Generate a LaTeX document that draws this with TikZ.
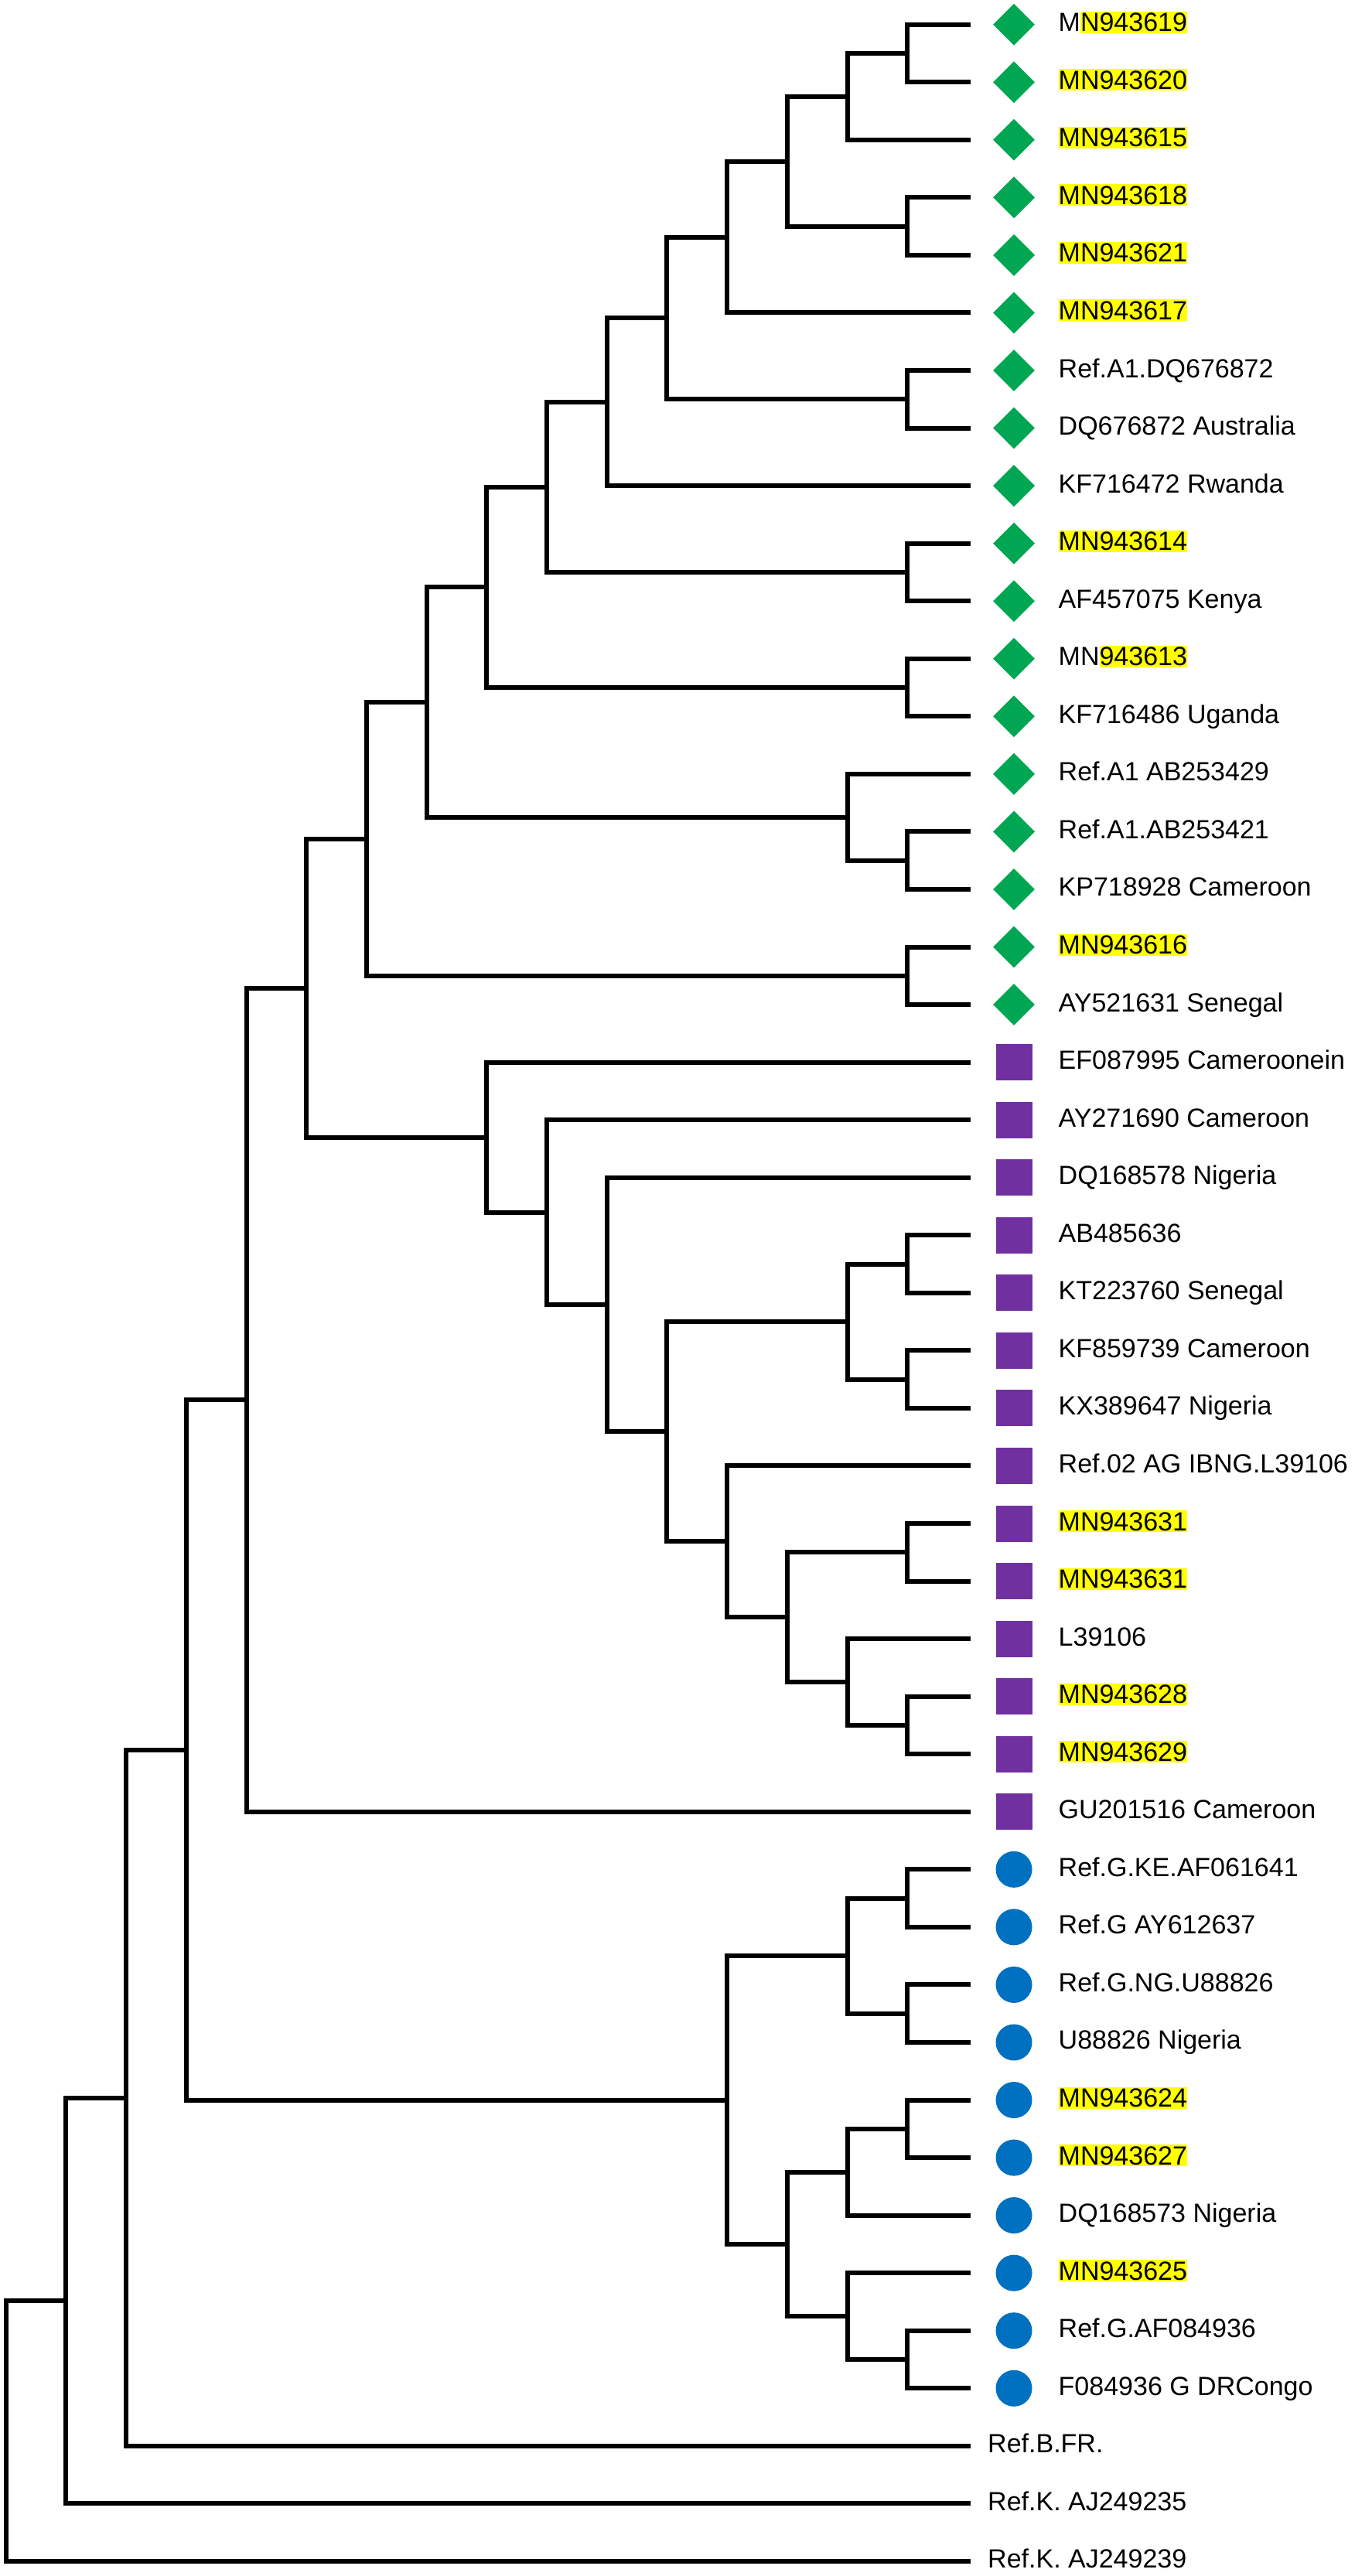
\documentclass[tikz,border=0pt]{standalone}
\usepackage{fontspec}
\setmainfont{Liberation Sans}
\usetikzlibrary{shapes.geometric}
\definecolor{mkgreen}{RGB}{0,166,81}
\definecolor{mkpurple}{RGB}{112,48,160}
\definecolor{mkblue}{RGB}{0,112,192}
\definecolor{hlyellow}{RGB}{255,255,0}
\newcommand\hl[1]{{\setlength{\fboxsep}{0pt}\colorbox{hlyellow}{\rule[-2pt]{0pt}{28pt}#1}}}
\begin{document}
\begin{tikzpicture}[x=1pt,y=-74.55pt,
  br/.style={line width=6pt,line join=miter,draw=black},
  lab/.style={anchor=base west,inner sep=0pt,yshift=-9pt,font=\fontsize{34pt}{40pt}\selectfont},
  mkd/.style={diamond,fill=mkgreen,minimum width=54pt,minimum height=54pt,inner sep=0pt},
  mks/.style={rectangle,fill=mkpurple,minimum size=47pt,inner sep=0pt},
  mkc/.style={circle,fill=mkblue,minimum size=47pt,inner sep=0pt}]
\useasboundingbox[fill=white] (0,-0.42522) rectangle (1751,44.2562);
% leaves with markers
\foreach \i/\t/\s in {
 0/d/M\hl{N943619}, 1/d/\hl{MN943620}, 2/d/\hl{MN943615}, 3/d/\hl{MN943618},
 4/d/\hl{MN943621}, 5/d/\hl{MN943617}, 6/d/Ref.A1.DQ676872, 7/d/DQ676872 Australia,
 8/d/KF716472 Rwanda, 9/d/\hl{MN943614}, 10/d/AF457075 Kenya, 11/d/MN\hl{943613},
 12/d/KF716486 Uganda, 13/d/Ref.A1 AB253429, 14/d/Ref.A1.AB253421, 15/d/KP718928 Cameroon,
 16/d/\hl{MN943616}, 17/d/AY521631 Senegal,
 18/s/EF087995 Cameroonein, 19/s/AY271690 Cameroon, 20/s/DQ168578 Nigeria, 21/s/AB485636,
 22/s/KT223760 Senegal, 23/s/KF859739 Cameroon, 24/s/KX389647 Nigeria, 25/s/Ref.02 AG IBNG.L39106,
 26/s/\hl{MN943631}, 27/s/\hl{MN943631}, 28/s/L39106, 29/s/\hl{MN943628}, 30/s/\hl{MN943629},
 31/s/GU201516 Cameroon,
 32/c/Ref.G.KE.AF061641, 33/c/Ref.G AY612637, 34/c/Ref.G.NG.U88826, 35/c/U88826 Nigeria,
 36/c/\hl{MN943624}, 37/c/\hl{MN943627}, 38/c/DQ168573 Nigeria, 39/c/\hl{MN943625},
 40/c/Ref.G.AF084936, 41/c/F084936 G DRCongo}
{
  \coordinate (L\i) at (1255,\i);
  \node[mk\t] (m\i) at (1311,\i) {};
  \node[lab] (t\i) at (1368.5,\i) {\s};
}
% outgroup leaves
\foreach \i/\s in {42/Ref.B.FR., 43/Ref.K. AJ249235, 44/Ref.K. AJ249239}
{
  \coordinate (L\i) at (1255,\i);
  \node[lab] (t\i) at (1277,\i) {\s};
}
% internal nodes
\coordinate (a15) at (1173.2,0.5);
\coordinate (a14) at (1095.5,1.25);
\coordinate (b15) at (1173.2,3.5);
\coordinate (a13) at (1017.8,2.375);
\coordinate (a12) at (940.1,3.6875);
\coordinate (c15) at (1173.2,6.5);
\coordinate (a11) at (862.4,5.09375);
\coordinate (a10) at (784.7,6.546875);
\coordinate (d15) at (1173.2,9.5);
\coordinate (a9) at (707,8.0234375);
\coordinate (e15) at (1173.2,11.5);
\coordinate (a8) at (629.3,9.76171875);
\coordinate (f15) at (1173.2,14.5);
\coordinate (f14) at (1095.5,13.75);
\coordinate (a7) at (551.6,11.755859);
\coordinate (g15) at (1173.2,16.5);
\coordinate (a6) at (473.9,14.12793);
\coordinate (h15) at (1173.2,21.5);
\coordinate (i15) at (1173.2,23.5);
\coordinate (h14) at (1095.5,22.5);
\coordinate (j15) at (1173.2,26.5);
\coordinate (k15) at (1173.2,29.5);
\coordinate (k14) at (1095.5,28.75);
\coordinate (c13) at (1017.8,27.625);
\coordinate (c12) at (940.1,26.3125);
\coordinate (c11) at (862.4,24.40625);
\coordinate (c10) at (784.7,22.203125);
\coordinate (c9) at (707,20.6015625);
\coordinate (c8) at (629.3,19.30078);
\coordinate (a5) at (396.2,16.714355);
\coordinate (a4) at (318.5,23.857178);
\coordinate (l15) at (1173.2,32.5);
\coordinate (m15) at (1173.2,34.5);
\coordinate (l14) at (1095.5,33.5);
\coordinate (n15) at (1173.2,36.5);
\coordinate (n14) at (1095.5,37.25);
\coordinate (o15) at (1173.2,40.5);
\coordinate (o14) at (1095.5,39.75);
\coordinate (g13) at (1017.8,38.5);
\coordinate (g12) at (940.1,36);
\coordinate (a3) at (240.8,29.928589);
\coordinate (a2) at (163.1,35.964294);
\coordinate (a1) at (85.4,39.482147);
\coordinate (a0) at (7.7,41.741074);
% branches
\foreach \p/\c in {a15/L0, a15/L1, a14/a15, a14/L2, b15/L3, b15/L4, a13/a14, a13/b15,
  a12/a13, a12/L5, c15/L6, c15/L7, a11/a12, a11/c15, a10/a11, a10/L8, d15/L9, d15/L10,
  a9/a10, a9/d15, e15/L11, e15/L12, a8/a9, a8/e15, f15/L14, f15/L15, f14/L13, f14/f15,
  a7/a8, a7/f14, g15/L16, g15/L17, a6/a7, a6/g15,
  h15/L21, h15/L22, i15/L23, i15/L24, h14/h15, h14/i15, j15/L26, j15/L27, k15/L29, k15/L30,
  k14/L28, k14/k15, c13/j15, c13/k14, c12/L25, c12/c13, c11/h14, c11/c12, c10/L20, c10/c11,
  c9/L19, c9/c10, c8/L18, c8/c9, a5/a6, a5/c8, a4/a5, a4/L31,
  l15/L32, l15/L33, m15/L34, m15/L35, l14/l15, l14/m15, n15/L36, n15/L37, n14/n15, n14/L38,
  o15/L40, o15/L41, o14/L39, o14/o15, g13/n14, g13/o14, g12/l14, g12/g13,
  a3/a4, a3/g12, a2/a3, a2/L42, a1/a2, a1/L43, a0/a1, a0/L44}
{
  \draw[br] (\p) |- (\c);
}
\end{tikzpicture}
\end{document}
